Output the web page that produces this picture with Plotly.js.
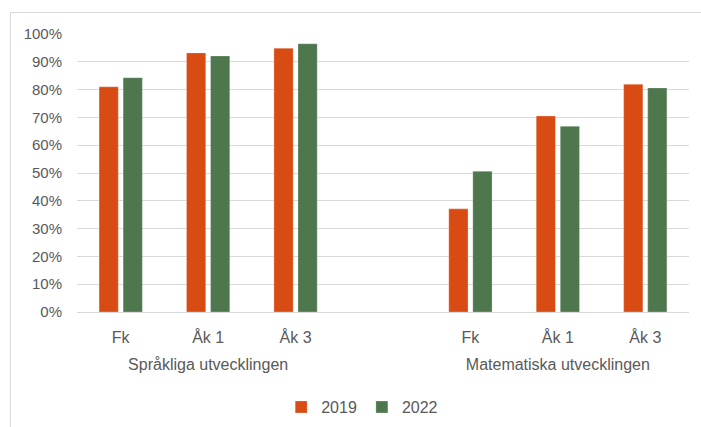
<!DOCTYPE html>
<html>
<head>
<meta charset="utf-8">
<script src="https://cdn.plot.ly/plotly-3.0.1.min.js"></script>
<style>html,body{margin:0;padding:0;background:#fff;}#chart{width:701px;height:427px;}</style>
</head>
<body>
<div id="chart"></div>
<script>
const groups = ["Språkliga utvecklingen", "Språkliga utvecklingen", "Språkliga utvecklingen", " ", "Matematiska utvecklingen", "Matematiska utvecklingen", "Matematiska utvecklingen"];
const categories = ["Fk", "Åk 1", "Åk 3", " ", "Fk", "Åk 1", "Åk 3"];
const values2019 = [0.81, 0.932, 0.949, null, 0.371, 0.705, 0.819];
const values2022 = [0.843, 0.921, 0.965, null, 0.506, 0.668, 0.806];
const seriesNames = ["2019", "2022"];
const yTicks = [0, 0.1, 0.2, 0.3, 0.4, 0.5, 0.6, 0.7, 0.8, 0.9, 1.0];

const FONT = "'Liberation Sans', Arial, sans-serif";
const TXT = "#595959";

// the group row sits one text line lower than the category row
const groupLabels = groups.map(g => "<br>" + g);

const traces = [
  {type: "bar", name: seriesNames[0], x: [groupLabels, categories], y: values2019,
   marker: {color: "#D84C14", line: {color: "rgba(255,255,255,0.5)", width: 0.5}}, hoverinfo: "skip"},
  {type: "bar", name: seriesNames[1], x: [groupLabels, categories], y: values2022,
   marker: {color: "#4E774D", line: {color: "rgba(255,255,255,0.5)", width: 0.5}}, hoverinfo: "skip"}
];

const layout = {
  width: 701, height: 427,
  margin: {l: 77, r: 12, t: 34, b: 115, autoexpand: false},
  paper_bgcolor: "#fff", plot_bgcolor: "#fff",
  font: {family: FONT, size: 16, color: TXT},
  barmode: "group", bargap: 0.45, bargroupgap: 0.2,
  showlegend: true,
  legend: {orientation: "h", x: 0.466, xanchor: "center", y: -0.342, yanchor: "middle",
           font: {family: FONT, size: 16, color: TXT}, traceorder: "normal"},
  xaxis: {type: "multicategory", showdividers: false, showgrid: false, zeroline: false,
          showline: false, ticks: "", ticklabelstandoff: 14,
          tickfont: {family: FONT, size: 16, color: TXT}},
  yaxis: {range: [0, 1], tickvals: yTicks, tickformat: ".0%", showgrid: true,
          gridcolor: "#d9d9d9", gridwidth: 1, zeroline: true, zerolinecolor: "#d9d9d9", zerolinewidth: 1,
          showline: false, ticks: "", ticklabelstandoff: 14,
          tickfont: {family: FONT, size: 15, color: TXT}},
  shapes: [{type: "rect", xref: "paper", yref: "paper",
            x0: -0.1087, x1: 1.06, y0: -0.5, y1: 1.0773,
            line: {color: "#d9d9d9", width: 1}, fillcolor: "rgba(0,0,0,0)", layer: "below"}]
};

Plotly.newPlot("chart", traces, layout, {displayModeBar: false, staticPlot: true});
</script>
</body>
</html>
